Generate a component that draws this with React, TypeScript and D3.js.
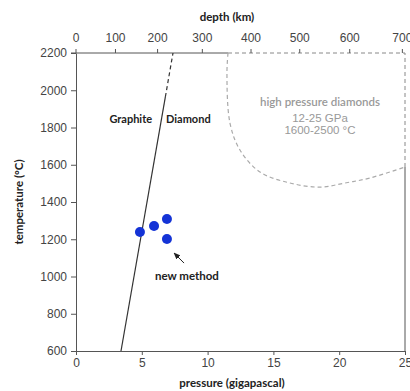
import React, { useEffect, useRef } from 'react';
import * as d3 from 'd3';

// valores
const pressureTicks = [0, 5, 10, 15, 20, 25];
const tempTicks = [600, 800, 1000, 1200, 1400, 1600, 1800, 2000, 2200];
const depthTicks = [0, 100, 200, 300, 400, 500, 600, 700];
const depthAsPressure = [0, 3.0, 6.2, 9.6, 13.3, 17.0, 20.8, 24.8];

// linha grafite / diamante
const boundarySolid = [
  { p: 3.42, t: 600 },
  { p: 6.79, t: 1964 },
];
const boundaryDashed = [
  { p: 6.79, t: 1964 },
  { p: 7.37, t: 2200 },
];

// região dos diamantes de alta pressão
const hpRegion = [
  { p: 11.55, t: 2200 },
  { p: 11.47, t: 2093 },
  { p: 11.7, t: 1824 },
  { p: 12.46, t: 1679 },
  { p: 13.98, t: 1561 },
  { p: 16.26, t: 1502 },
  { p: 18.54, t: 1480 },
  { p: 20.44, t: 1502 },
  { p: 22.34, t: 1529 },
  { p: 25, t: 1588 },
];

// novos pontos experimentais
const samples = [
  { p: 4.86, t: 1239 },
  { p: 5.93, t: 1271 },
  { p: 6.91, t: 1309 },
  { p: 6.91, t: 1201 },
];

const W = 410;
const H = 391;

const App = () => {
  const ref = useRef<SVGSVGElement>(null);

  useEffect(() => {
    const svg = d3.select(ref.current);
    svg.selectAll('*').remove();

    const x = d3.scaleLinear().domain([0, 25]).range([76, 405]);
    const y = d3.scaleLinear().domain([600, 2200]).range([351, 53]);
    const depthToP = d3.scaleLinear().domain(depthTicks).range(depthAsPressure);

    const axisColor = '#555';
    const tickFont = '"Liberation Sans", Arial, sans-serif';
    const titleFont = 'Lato, "Open Sans", sans-serif';

    // eixo esquerdo
    const left = svg.append('g').attr('transform', `translate(${x(0)},0)`)
      .call(d3.axisLeft(y).tickValues(tempTicks).tickFormat(d3.format('d')).tickSize(5).tickSizeOuter(0).tickPadding(4));
    left.select('.domain').attr('stroke', axisColor);
    left.selectAll('line').attr('stroke', axisColor);
    left.selectAll('text').attr('font-family', tickFont).attr('font-size', 12).attr('fill', '#444');

    // eixo inferior
    const bottom = svg.append('g').attr('transform', `translate(0,${y(600)})`)
      .call(d3.axisBottom(x).tickValues(pressureTicks).tickFormat(d3.format('d')).tickSize(4).tickSizeOuter(0).tickPadding(3));
    bottom.select('.domain').attr('stroke', axisColor);
    bottom.selectAll('line').attr('stroke', axisColor);
    bottom.selectAll('text').attr('font-family', tickFont).attr('font-size', 12).attr('fill', '#444');

    // eixo superior (profundidade)
    const top = svg.append('g').attr('transform', `translate(0,${y(2200)})`);
    top.append('line')
      .attr('x1', x(0) - 5).attr('x2', x(hpRegion[0].p))
      .attr('y1', 0).attr('y2', 0)
      .attr('stroke', axisColor);
    top.append('line')
      .attr('x1', x(hpRegion[0].p)).attr('x2', x(25))
      .attr('y1', 0).attr('y2', 0)
      .attr('stroke', '#888').attr('stroke-dasharray', '4,3');
    depthTicks.forEach(d => {
      const px = x(depthToP(d));
      if (d > 0) {
        top.append('line').attr('x1', px).attr('x2', px).attr('y1', 0).attr('y2', -4).attr('stroke', axisColor);
      }
      top.append('text')
        .attr('x', px).attr('y', -11)
        .attr('text-anchor', 'middle')
        .attr('font-family', tickFont).attr('font-size', 12).attr('fill', '#444')
        .text(d);
    });
    // y axis passa um pouco acima do topo
    svg.append('line').attr('x1', x(0)).attr('x2', x(0)).attr('y1', y(2200) - 4).attr('y2', y(2200)).attr('stroke', axisColor);

    // borda direita
    const lastHp = hpRegion[hpRegion.length - 1];
    svg.append('line')
      .attr('x1', x(25)).attr('x2', x(25))
      .attr('y1', y(600)).attr('y2', y(lastHp.t))
      .attr('stroke', axisColor);
    svg.append('line')
      .attr('x1', x(25)).attr('x2', x(25))
      .attr('y1', y(lastHp.t)).attr('y2', y(2200))
      .attr('stroke', '#888').attr('stroke-dasharray', '4,3');

    // região de alta pressão
    const curve = d3.line<{ p: number; t: number }>()
      .x(d => x(d.p)).y(d => y(d.t))
      .curve(d3.curveCatmullRom);
    svg.append('path')
      .datum(hpRegion)
      .attr('d', curve)
      .attr('fill', 'none')
      .attr('stroke', '#aaa')
      .attr('stroke-width', 1.2)
      .attr('stroke-dasharray', '4,3');

    // linha grafite-diamante
    const line = d3.line<{ p: number; t: number }>().x(d => x(d.p)).y(d => y(d.t));
    svg.append('path').datum(boundarySolid).attr('d', line)
      .attr('fill', 'none').attr('stroke', '#333').attr('stroke-width', 1.2);
    svg.append('path').datum(boundaryDashed).attr('d', line)
      .attr('fill', 'none').attr('stroke', '#333').attr('stroke-width', 1.2).attr('stroke-dasharray', '4,3');

    // pontos
    svg.selectAll('.dot')
      .data(samples)
      .enter().append('circle')
      .attr('class', 'dot')
      .attr('cx', d => x(d.p))
      .attr('cy', d => y(d.t))
      .attr('r', 5)
      .attr('fill', '#1433d6');

    // seta "new method"
    svg.append('defs').append('marker')
      .attr('id', 'arrow')
      .attr('viewBox', '0 0 10 10')
      .attr('refX', 9).attr('refY', 5)
      .attr('markerWidth', 7).attr('markerHeight', 7)
      .attr('orient', 'auto')
      .append('path').attr('d', 'M0,1 L10,5 L0,9 Z').attr('fill', '#222');
    svg.append('line')
      .attr('x1', x(8.21)).attr('y1', y(1072))
      .attr('x2', x(7.45)).attr('y2', y(1126))
      .attr('stroke', '#222').attr('stroke-width', 1)
      .attr('marker-end', 'url(#arrow)');

    const label = (px: number, py: number, txt: string, anchor: string, opts: any = {}) =>
      svg.append('text')
        .attr('x', px).attr('y', py)
        .attr('text-anchor', anchor)
        .attr('font-family', opts.family || titleFont)
        .attr('font-size', opts.size || 11)
        .attr('font-weight', opts.weight || 'bold')
        .attr('fill', opts.fill || '#222')
        .text(txt);

    label(x(8.43), y(981), 'new method', 'middle', { size: 11.5 });
    label(x(5.78), y(1824), 'Graphite', 'end');
    label(x(6.84), y(1824), 'Diamond', 'start');

    label(x(18.54), y(1915), 'high pressure diamonds', 'middle', { size: 11.5, weight: 600, fill: '#999' });
    label(x(18.54), y(1830), '12-25 GPa', 'middle', { family: tickFont, size: 11.5, weight: 'normal', fill: '#999' });
    label(x(18.54), y(1765), '1600-2500 °C', 'middle', { family: tickFont, size: 11.5, weight: 'normal', fill: '#999' });

    // títulos dos eixos
    label(227, 21, 'depth (km)', 'middle', { size: 11.5 });
    label(232, 387, 'pressure (gigapascal)', 'middle', { size: 11.5 });
    svg.append('text')
      .attr('transform', `translate(23,${(y(600) + y(2200)) / 2}) rotate(-90)`)
      .attr('text-anchor', 'middle')
      .attr('font-family', titleFont)
      .attr('font-size', 11.5)
      .attr('font-weight', 'bold')
      .attr('fill', '#222')
      .text('temperature (°C)');
  }, []);

  return (
    <svg
      ref={ref}
      width={W}
      height={H}
      style={{ position: 'absolute', left: 0, top: 0, background: '#fff' }}
    />
  );
};

export default App;
